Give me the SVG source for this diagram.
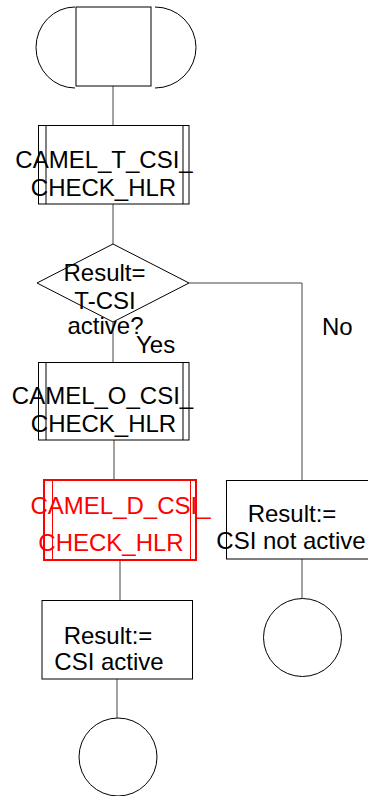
<svg xmlns="http://www.w3.org/2000/svg" width="368" height="796" viewBox="0 0 368 796">
<style>
.s{fill:none;stroke:#000;stroke-width:1}
.c{fill:none;stroke:#444;stroke-width:1}
.r{fill:none;stroke:#f00;stroke-width:1}
.r2{fill:none;stroke:#f00;stroke-width:2}
.t{font-family:"Liberation Sans",Arial,sans-serif;font-size:24px;fill:#000}
.m{text-anchor:middle}
.red{fill:#f00}
</style>
<rect width="368" height="796" fill="#fff"/>
<g id="connectors">
<path class="c" d="M113,86V125"/>
<path class="c" d="M113,204V244"/>
<path class="c" d="M113,322V362"/>
<path class="c" d="M189,283H302V480"/>
<path class="c" d="M114,440V480"/>
<path class="c" d="M120,560V600"/>
<path class="c" d="M117,679V718"/>
<path class="c" d="M302,559V598"/>
</g>
<g id="start">
<rect class="s" x="76" y="7" width="75" height="79"/>
<path class="s" d="M75,7A39,40.5 0 0 0 75,88"/>
<path class="s" d="M155,7A41,40.5 0 0 1 155,88"/>
</g>
<g id="t_csi">
<rect class="s" x="38.5" y="125.5" width="150.5" height="78.5"/>
<path class="s" d="M46,125.5V204M183,125.5V204"/>
<text class="t m" x="104" y="168">CAMEL_T_CSI_</text>
<text class="t m" x="103.5" y="196">CHECK_HLR</text>
</g>
<g id="decision">
<path class="s" d="M113,244L189,283L113,322L37,283Z"/>
<text class="t m" x="104.5" y="281">Result=</text>
<text class="t m" x="105" y="309">T-CSI</text>
<text class="t m" x="105.5" y="334">active?</text>
<text class="t" x="136" y="353">Yes</text>
<text class="t" x="322" y="335">No</text>
</g>
<g id="o_csi">
<rect class="s" x="38.5" y="362.5" width="150.5" height="77.5"/>
<path class="s" d="M46,362.5V440M183,362.5V440"/>
<text class="t m" x="102.5" y="404">CAMEL_O_CSI_</text>
<text class="t m" x="103.5" y="432">CHECK_HLR</text>
</g>
<g id="d_csi">
<rect class="r2" x="44" y="480" width="152" height="80"/>
<path class="r" d="M52.5,480V560M190.5,480V560"/>
<text class="t m red" x="120.5" y="514">CAMEL_D_CSI_</text>
<text class="t m red" x="111" y="551">CHECK_HLR</text>
</g>
<g id="not_active">
<rect class="s" x="226.5" y="480.5" width="151" height="78.5"/>
<text class="t m" x="292" y="522">Result:=</text>
<text class="t m" x="291" y="549">CSI not active</text>
</g>
<g id="active">
<rect class="s" x="42" y="600.5" width="150.5" height="78.5"/>
<text class="t m" x="108" y="644">Result:=</text>
<text class="t m" x="109" y="670">CSI active</text>
</g>
<g id="end_right">
<circle class="s" cx="302.5" cy="637.5" r="39"/>
</g>
<g id="end_left">
<circle class="s" cx="118" cy="757" r="39"/>
</g>
</svg>
